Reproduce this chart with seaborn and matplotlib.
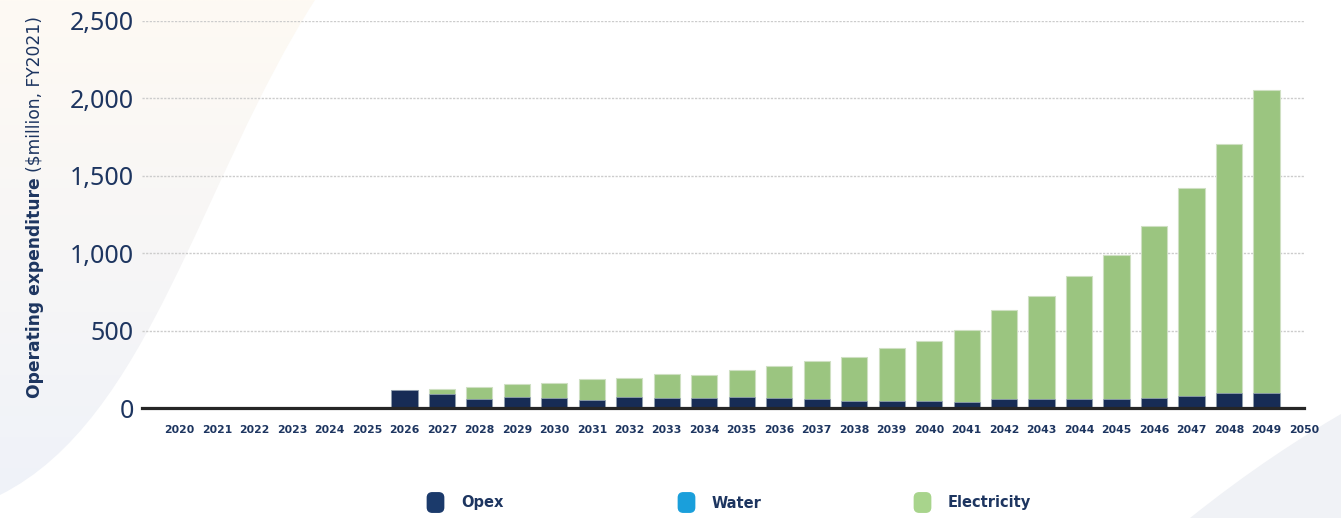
import numpy as np
import pandas as pd
import matplotlib
matplotlib.use("Agg")
import matplotlib.pyplot as plt
import seaborn as sns
from matplotlib.patches import FancyBboxPatch, PathPatch
from matplotlib.lines import Line2D
from matplotlib.path import Path
from matplotlib.ticker import FuncFormatter
from matplotlib.colors import LinearSegmentedColormap

# ---------------- data ----------------
years = list(range(2026, 2050))
opex = [116, 90, 58, 71, 62, 52, 71, 65, 65, 69, 65, 58,
        45, 45, 45, 39, 58, 58, 58, 58, 65, 80, 97, 97]
water = [0] * 24
electricity = [0, 31, 77, 81, 99, 133, 123, 154, 151, 177, 206, 243,
               285, 342, 389, 464, 572, 665, 796, 931, 1111, 1337, 1604, 1955]
tick_years = list(range(2020, 2051))
y_ticks = [0, 500, 1000, 1500, 2000, 2500]
series_names = ["Opex", "Water", "Electricity"]

# ---------------- style ----------------
NAVY = "#1d3560"
OPEX_C = "#172c55"
WATER_C = "#1a9fdb"
ELEC_C = "#9bc580"
LEG_OPEX = "#1b3a6b"
LEG_ELEC = "#a8d48c"

sns.set_theme(style="white")
plt.rcParams["font.family"] = ["DejaVu Sans"]

W, H = 1341, 518
fig = plt.figure(figsize=(W / 100, H / 100), dpi=100, facecolor="white")

# decorative background shapes
bg = fig.add_axes([0, 0, 1, 1], zorder=-5)
bg.set_xlim(0, W)
bg.set_ylim(H, 0)
bg.axis("off")
grad = np.linspace(0, 1, 256).reshape(-1, 1)
cmap = LinearSegmentedColormap.from_list("bgc", ["#fefaf3", "#f7f6f6", "#eff2f9"])
im = bg.imshow(grad, extent=[0, 320, 500, 0], cmap=cmap, aspect="auto")
left_path = Path([(0, 0), (315, 0), (200, 180), (150, 420), (0, 495), (0, 0)],
                 [Path.MOVETO, Path.LINETO, Path.CURVE4, Path.CURVE4, Path.CURVE4,
                  Path.CLOSEPOLY])
clip = PathPatch(left_path, transform=bg.transData, facecolor="none", edgecolor="none")
bg.add_patch(clip)
im.set_clip_path(clip)
right_path = Path([(1190, 518), (1250, 470), (1300, 438), (1341, 414), (1341, 518), (1190, 518)],
                  [Path.MOVETO, Path.CURVE4, Path.CURVE4, Path.CURVE4, Path.LINETO,
                   Path.CLOSEPOLY])
bg.add_patch(PathPatch(right_path, facecolor="#f0f2f6", edgecolor="none"))

# main axes
ax = fig.add_axes([142 / W, 110 / H, 1162 / W, 387.3 / H])
ax.patch.set_alpha(0)

df = pd.DataFrame({"year": years, "opex": opex, "water": water,
                   "electricity": electricity})
df["total"] = df["opex"] + df["water"] + df["electricity"]

sns.barplot(data=df, x="year", y="total", native_scale=True, orient="x",
            color=ELEC_C, saturation=1, width=0.7, errorbar=None,
            edgecolor="#cfe0c3", linewidth=0.8, ax=ax)
sns.barplot(data=df, x="year", y="opex", native_scale=True, orient="x",
            color=OPEX_C, saturation=1, width=0.7, errorbar=None,
            edgecolor="#9aa6ba", linewidth=0.5, ax=ax)

ax.set_xlim(2019, 2050)
ax.set_ylim(0, 2500)
ax.set_xticks([2019] + tick_years)
ax.set_xticklabels([""] + [str(y) for y in tick_years])
ax.set_yticks(y_ticks)
ax.yaxis.set_major_formatter(FuncFormatter(lambda v, p: f"{int(v):,}"))
ax.set_xlabel("")
ax.set_ylabel("")

for s in ["left", "right", "top"]:
    ax.spines[s].set_visible(False)
ax.spines["bottom"].set_color("#262626")
ax.spines["bottom"].set_linewidth(2.3)

ax.grid(axis="y", color="#cccccc", linestyle=(0, (1.6, 1.0)), linewidth=1.0)
ax.grid(axis="x", visible=False)
ax.set_axisbelow(True)

ax.tick_params(axis="x", length=4.5, width=2.0, color="#262626",
               direction="out", pad=8.0, labelsize=7.8, labelcolor=NAVY)
for lab in ax.get_xticklabels():
    lab.set_fontweight("bold")
ax.tick_params(axis="y", length=0, pad=6, labelsize=18, labelcolor=NAVY)
for lab in ax.get_yticklabels():
    lab.set_fontfamily(["Noto Sans", "DejaVu Sans"])

# y label: bold + regular parts
t1 = fig.text(40 / W, 120 / H, "Operating expenditure", rotation=90,
              rotation_mode="anchor", ha="left", va="baseline",
              fontsize=12.3, fontweight="bold", color=NAVY)
fig.canvas.draw()
bb = t1.get_window_extent(fig.canvas.get_renderer())
t2 = fig.text(40 / W, (bb.y1 + 5) / H, "($million, FY2021)", rotation=90,
              rotation_mode="anchor", ha="left", va="baseline",
              fontsize=12.3, color=NAVY)

# legend (rounded square markers)
rb = FancyBboxPatch((-0.42, -0.5), 0.84, 1.0,
                    boxstyle="round,pad=0,rounding_size=0.25")
rpath = rb.get_path()
leg_colors = [LEG_OPEX, WATER_C, LEG_ELEC]
leg_x = [426, 677, 913]
for name, c, x in zip(series_names, leg_colors, leg_x):
    h = Line2D([], [], marker=rpath, markersize=14, linestyle="none",
               markerfacecolor=c, markeredgecolor=c)
    fig.legend([h], [name], loc="center left", bbox_to_anchor=(x / W, 15 / H),
               frameon=False, borderpad=0, borderaxespad=0, handlelength=1.2,
               handletextpad=1.2,
               prop={"weight": "bold", "size": 10.5}, labelcolor=NAVY)

fig.savefig("out.png", dpi=100, facecolor="white")
